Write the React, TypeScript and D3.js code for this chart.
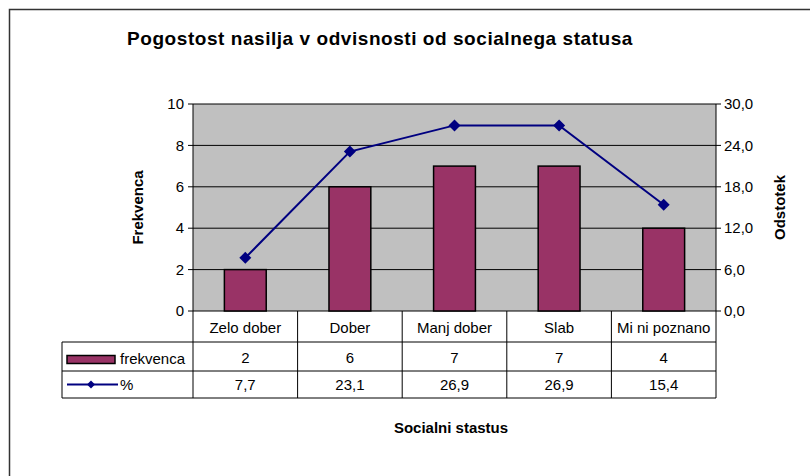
import React from "react"
import { scaleBand, scaleLinear, line } from "d3"

const categories = ["Zelo dober", "Dober", "Manj dober", "Slab", "Mi ni poznano"]
const frekvenca = [2, 6, 7, 7, 4]
const odstotek = [7.7, 23.1, 26.9, 26.9, 15.4]
const leftTicks = [0, 2, 4, 6, 8, 10]
const rightTicks = [0, 6, 12, 18, 24, 30]

const width = 810
const height = 476
const plot = { left: 193, right: 716, top: 104, bottom: 311 }
const legendLeft = 62
const rowY = [311, 342, 371, 398]

const fmt = (v: number) => v.toFixed(1).replace(".", ",")

const App = () => {
  const x = scaleBand().domain(categories).range([plot.left, plot.right])
  const yL = scaleLinear().domain([0, 10]).range([plot.bottom, plot.top])
  const yR = scaleLinear().domain([0, 30]).range([plot.bottom, plot.top])
  const barW = x.bandwidth() * 0.4
  const cx = (c: string) => (x(c) as number) + x.bandwidth() / 2

  const pathD = line<number>()
    .x((_, i) => cx(categories[i]))
    .y((d) => yR(d))(odstotek)

  const diamond = (px: number, py: number, r: number) =>
    `M${px},${py - r}L${px + r},${py}L${px},${py + r}L${px - r},${py}Z`

  const font = "Arial, 'Liberation Sans', sans-serif"
  const fs = 15
  const row1 = (rowY[1] + rowY[2]) / 2
  const row2 = (rowY[2] + rowY[3]) / 2

  return (
    <svg
      width={width}
      height={height}
      style={{ position: "absolute", left: 0, top: 0, fontFamily: font }}
    >
      <rect x={0} y={0} width={width} height={height} fill="white" />
      <rect x={9.5} y={9.5} width={width + 20} height={height + 20} fill="none" stroke="#333" strokeWidth={1.5} />

      <text x={380} y={45} textAnchor="middle" fontSize={19} fontWeight="bold" letterSpacing={0.55}>
        Pogostost nasilja v odvisnosti od socialnega statusa
      </text>

      {/* plot area */}
      <rect x={plot.left} y={plot.top} width={plot.right - plot.left} height={plot.bottom - plot.top} fill="#c0c0c0" />
      {leftTicks.map((t) => (
        <g key={t}>
          <line x1={plot.left - 5} x2={plot.right} y1={yL(t)} y2={yL(t)} stroke="#000" strokeWidth={1} />
          <text x={plot.left - 9} y={yL(t)} dy="0.35em" textAnchor="end" fontSize={fs}>
            {t}
          </text>
        </g>
      ))}
      {rightTicks.map((t) => (
        <g key={t}>
          <line x1={plot.right} x2={plot.right + 5} y1={yR(t)} y2={yR(t)} stroke="#000" />
          <text x={plot.right + 8} y={yR(t)} dy="0.35em" fontSize={fs}>
            {fmt(t)}
          </text>
        </g>
      ))}
      <line x1={plot.left} x2={plot.left} y1={plot.top} y2={plot.bottom} stroke="#000" />
      <line x1={plot.right} x2={plot.right} y1={plot.top} y2={plot.bottom} stroke="#000" />

      {categories.map((c, i) => (
        <rect
          key={c}
          x={cx(c) - barW / 2}
          y={yL(frekvenca[i])}
          width={barW}
          height={plot.bottom - yL(frekvenca[i])}
          fill="#993366"
          stroke="#000"
          strokeWidth={1.5}
        />
      ))}

      <path d={pathD || ""} fill="none" stroke="#000080" strokeWidth={2} />
      {odstotek.map((v, i) => (
        <path key={i} d={diamond(cx(categories[i]), yR(v), 6)} fill="#000080" />
      ))}

      <text transform={`translate(143, ${(plot.top + plot.bottom) / 2}) rotate(-90)`} textAnchor="middle" fontSize={fs} fontWeight="bold">
        Frekvenca
      </text>
      <text transform={`translate(785, ${(plot.top + plot.bottom) / 2}) rotate(-90)`} textAnchor="middle" fontSize={fs} fontWeight="bold">
        Odstotek
      </text>

      {/* data table */}
      <g stroke="#000" strokeWidth={1}>
        <line x1={legendLeft} x2={plot.right} y1={rowY[1]} y2={rowY[1]} />
        <line x1={legendLeft} x2={plot.right} y1={rowY[2]} y2={rowY[2]} />
        <line x1={legendLeft} x2={plot.right} y1={rowY[3]} y2={rowY[3]} />
        <line x1={legendLeft} x2={legendLeft} y1={rowY[1]} y2={rowY[3]} />
        {categories.map((c) => (
          <line key={c} x1={x(c)} x2={x(c)} y1={rowY[0]} y2={rowY[3]} />
        ))}
        <line x1={plot.right} x2={plot.right} y1={rowY[0]} y2={rowY[3]} />
      </g>
      {categories.map((c, i) => (
        <g key={c} fontSize={fs} textAnchor="middle">
          <text x={cx(c)} y={(rowY[0] + rowY[1]) / 2 + 1} dy="0.35em">{c}</text>
          <text x={cx(c)} y={row1 + 1} dy="0.35em">{frekvenca[i]}</text>
          <text x={cx(c)} y={row2} dy="0.35em">{fmt(odstotek[i])}</text>
        </g>
      ))}
      <rect x={legendLeft + 5} y={row1 - 1} width={48} height={8} fill="#993366" stroke="#000" strokeWidth={1.5} />
      <text x={legendLeft + 58} y={row1 + 2} dy="0.35em" fontSize={fs}>frekvenca</text>
      <line x1={legendLeft + 5} x2={legendLeft + 56} y1={row2} y2={row2} stroke="#000080" strokeWidth={2} />
      <path d={diamond(legendLeft + 29, row2, 4)} fill="#000080" />
      <text x={legendLeft + 58} y={row2} dy="0.35em" fontSize={fs}>%</text>

      <text x={451} y={433} textAnchor="middle" fontSize={fs} fontWeight="bold">
        Socialni stastus
      </text>
    </svg>
  )
}

export default App
